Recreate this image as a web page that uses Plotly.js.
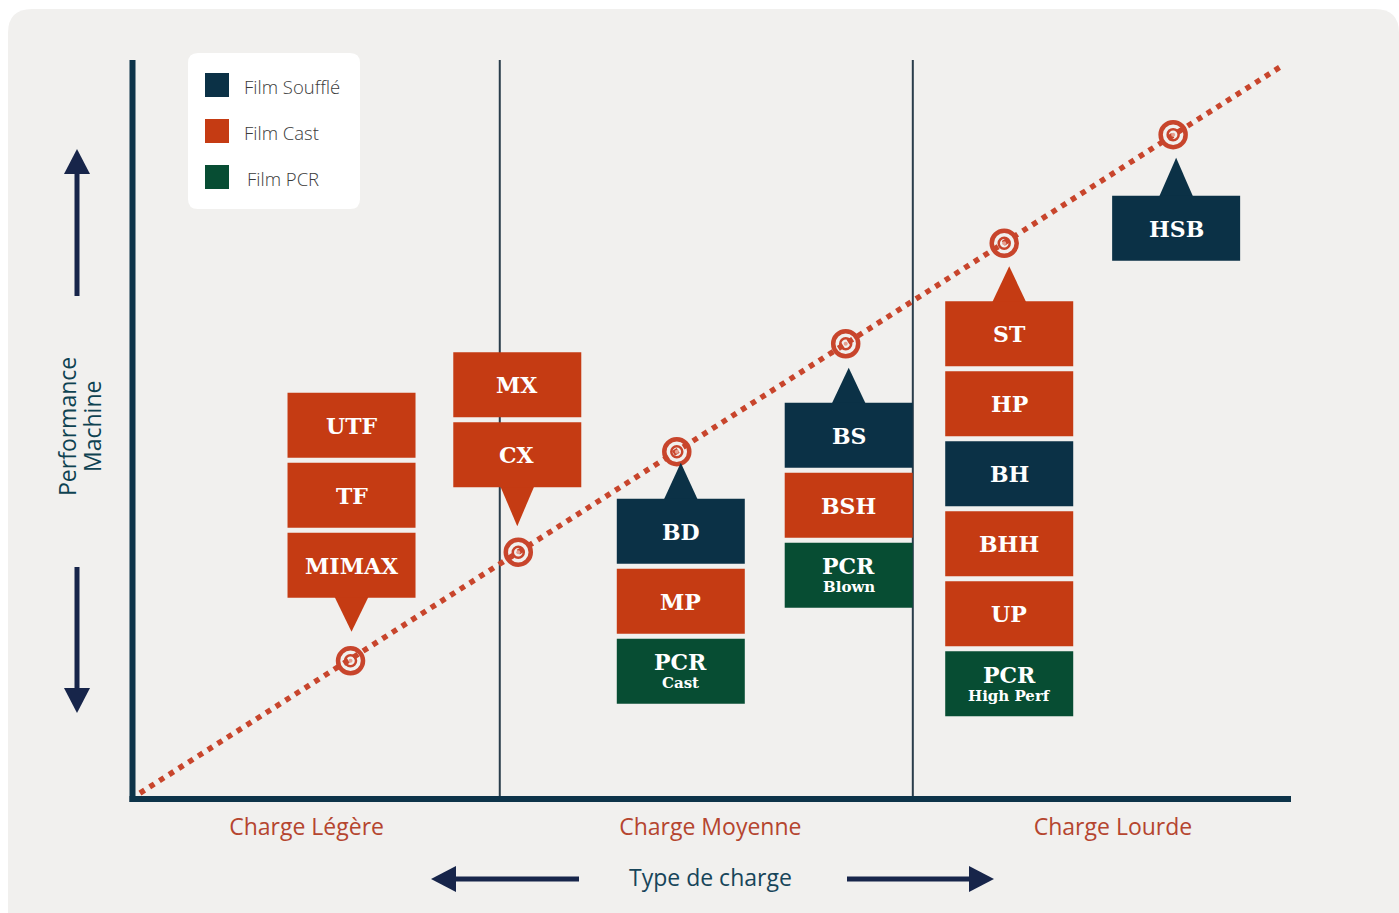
<!DOCTYPE html>
<html><head><meta charset="utf-8">
<script src="https://cdn.plot.ly/plotly-3.0.1.min.js"></script>
<style>html,body{margin:0;padding:0;background:#fff;}#chart{width:1399px;height:913px;}</style>
</head><body><div id="chart"></div>
<script>
// ---------------- data ----------------
const zoneNames = ['Charge Légère', 'Charge Moyenne', 'Charge Lourde'];
const zoneCenters = [15.0, 49.9, 84.7];
const zoneDividers = [31.7, 67.4];
const filmTypes = ['Film Soufflé', 'Film Cast', 'Film PCR'];
const targetCharge = [18.8, 33.3, 47.0, 61.6, 75.3, 89.9];
const targetPerf = [18.7, 33.4, 47.0, 61.6, 75.2, 89.9];
const trendCharge = [0.6, 99.4];
const trendPerf = [0.8, 99.3];
const stackLabels = [
  ['UTF', 'TF', 'MIMAX'],
  ['MX', 'CX'],
  ['BD', 'MP', 'PCR|Cast'],
  ['BS', 'BSH', 'PCR|Blown'],
  ['ST', 'HP', 'BH', 'BHH', 'UP', 'PCR|High Perf'],
  ['HSB']
];
const stackFilms = [
  [1, 1, 1],
  [1, 1],
  [0, 1, 2],
  [0, 1, 2],
  [1, 1, 0, 1, 1, 2],
  [0]
];
const xTitle = 'Type de charge';
const yTitleLines = ['Performance', 'Machine'];

// ---------------- style / layout constants ----------------
const W = 1399, H = 913;
const ML = 133, MR = 109, MT = 60, MB = 114;
const PW = W - ML - MR, PH = H - MT - MB;
const PX = PW / 100, PY = PH / 100;
const filmColors = ['#0b3146', '#c53b13', '#074d33'];
const dotColor = '#c8452c';
const navy = '#17254a';
const axisColor = '#0d3349';
const BOX_W = 128, BOX_H = 65, PITCH = 70, PTR_W = 34;
const ptrH = [34, 39, 36, 35, 35, 38];
const tipGap = [29, 26, 11, 24, 23, 23];
const boxShift = [1, -1, 4, 3, 5, 3];
const stackAbove = [true, true, false, false, false, false];

const toPx = (x) => ML + x * PX;
const toPy = (y) => H - MB - y * PY;
const dX = (px) => (px - ML) / PX;
const dY = (py) => (H - MB - py) / PY;
const pX = (px) => (px - ML) / PW;
const pY = (py) => (H - MB - py) / PH;

const shapes = [];
const annotations = [];

// background rounded panel
(function () {
  const x0 = 8, y0 = 9, x1 = 1399, y1 = 940, r = 24;
  const P = (a, b) => pX(a) + ',' + pY(b);
  shapes.push({
    type: 'path', xref: 'paper', yref: 'paper', layer: 'below',
    path: 'M' + P(x0 + r, y0) + ' L' + P(x1 - r, y0) + ' Q' + P(x1, y0) + ' ' + P(x1, y0 + r) +
      ' L' + P(x1, y1) + ' L' + P(x0, y1) + ' L' + P(x0, y0 + r) + ' Q' + P(x0, y0) + ' ' + P(x0 + r, y0) + ' Z',
    fillcolor: '#f1f0ee', line: { width: 0 }
  });
})();

// dividers
zoneDividers.forEach(x => shapes.push({
  type: 'line', xref: 'x', yref: 'paper', x0: x, x1: x, y0: 0, y1: 1, layer: 'below',
  line: { color: '#2a3d4b', width: 2 }
}));

// axis lines
shapes.push({ type: 'line', xref: 'paper', yref: 'paper', layer: 'below',
  x0: pX(132.5), x1: pX(132.5), y0: pY(60), y1: pY(802), line: { color: axisColor, width: 6 } });
shapes.push({ type: 'line', xref: 'paper', yref: 'paper', layer: 'below',
  x0: pX(129.5), x1: pX(1291), y0: pY(799), y1: pY(799), line: { color: axisColor, width: 6 } });

// arrows
function arrow(x0, y0, x1, y1) {
  const L = Math.hypot(x1 - x0, y1 - y0), ux = (x1 - x0) / L, uy = (y1 - y0) / L;
  const hl = 25, hw = 13;
  const bx = x1 - ux * hl, by = y1 - uy * hl;
  shapes.push({ type: 'line', xref: 'paper', yref: 'paper', layer: 'above',
    x0: pX(x0), y0: pY(y0), x1: pX(bx + ux * 2), y1: pY(by + uy * 2), line: { color: navy, width: 5 } });
  const P = (a, b) => pX(a) + ',' + pY(b);
  shapes.push({ type: 'path', xref: 'paper', yref: 'paper', layer: 'above',
    path: 'M' + P(x1, y1) + ' L' + P(bx - uy * hw, by + ux * hw) + ' L' + P(bx + uy * hw, by - ux * hw) + ' Z',
    fillcolor: navy, line: { width: 0 } });
}
arrow(77, 296, 77, 149);
arrow(77, 567, 77, 713);
arrow(579, 879, 431, 879);
arrow(847, 879, 994, 879);

// legend panel
(function () {
  const x0 = 188, y0 = 53, x1 = 360, y1 = 209, r = 10;
  const P = (a, b) => pX(a) + ',' + pY(b);
  shapes.push({
    type: 'path', xref: 'paper', yref: 'paper', layer: 'above',
    path: 'M' + P(x0 + r, y0) + ' L' + P(x1 - r, y0) + ' Q' + P(x1, y0) + ' ' + P(x1, y0 + r) +
      ' L' + P(x1, y1 - r) + ' Q' + P(x1, y1) + ' ' + P(x1 - r, y1) +
      ' L' + P(x0 + r, y1) + ' Q' + P(x0, y1) + ' ' + P(x0, y1 - r) +
      ' L' + P(x0, y0 + r) + ' Q' + P(x0, y0) + ' ' + P(x0 + r, y0) + ' Z',
    fillcolor: '#ffffff', line: { width: 0 }
  });
  filmTypes.forEach((name, i) => {
    const cy = 85 + i * 46;
    shapes.push({ type: 'rect', xref: 'paper', yref: 'paper', layer: 'above',
      x0: pX(205), x1: pX(229), y0: pY(cy - 12), y1: pY(cy + 12),
      fillcolor: filmColors[i], line: { width: 0 } });
    annotations.push({ xref: 'paper', yref: 'paper', x: pX(i === 2 ? 245 : 242), y: pY(cy + 1),
      xanchor: 'left', yanchor: 'middle', showarrow: false, text: name,
      font: { family: 'Open Sans', size: 18.5, weight: 300, color: '#3a3a3a' } });
  });
})();

// product stacks
stackLabels.forEach((labels, s) => {
  const tx = toPx(targetCharge[s]), ty = toPy(targetPerf[s]);
  const cx = tx + boxShift[s];
  const n = labels.length;
  let tip, base, tops = [], ptrColor;
  if (stackAbove[s]) {
    tip = ty - tipGap[s]; base = tip - ptrH[s];
    for (let i = 0; i < n; i++) tops.push(base - (n - i) * PITCH + (PITCH - BOX_H));
    ptrColor = filmColors[stackFilms[s][n - 1]];
  } else {
    tip = ty + tipGap[s]; base = tip + ptrH[s];
    for (let i = 0; i < n; i++) tops.push(base + i * PITCH);
    ptrColor = filmColors[stackFilms[s][0]];
  }
  const bo = stackAbove[s] ? -1 : 1;
  shapes.push({ type: 'path', xref: 'x', yref: 'y', layer: 'above',
    path: 'M' + dX(cx - PTR_W / 2) + ',' + dY(base + bo) + ' L' + dX(cx + PTR_W / 2) + ',' + dY(base + bo) +
      ' L' + dX(cx) + ',' + dY(tip) + ' Z',
    fillcolor: ptrColor, line: { width: 0 } });
  labels.forEach((lab, i) => {
    const top = tops[i], col = filmColors[stackFilms[s][i]];
    shapes.push({ type: 'rect', xref: 'x', yref: 'y', layer: 'above',
      x0: dX(cx - BOX_W / 2), x1: dX(cx + BOX_W / 2), y0: dY(top + BOX_H), y1: dY(top),
      fillcolor: col, line: { width: 0 } });
    const parts = lab.split('|');
    const mid = top + BOX_H / 2;
    if (parts.length === 1) {
      annotations.push({ xref: 'x', yref: 'y', x: dX(cx), y: dY(mid + 0.5), showarrow: false,
        xanchor: 'center', yanchor: 'middle', text: parts[0],
        font: { family: 'DejaVu Serif', size: 22, weight: 700, color: '#ffffff' } });
    } else {
      annotations.push({ xref: 'x', yref: 'y', x: dX(cx), y: dY(mid - 9), showarrow: false,
        xanchor: 'center', yanchor: 'middle', text: parts[0],
        font: { family: 'DejaVu Serif', size: 22, weight: 700, color: '#ffffff' } });
      annotations.push({ xref: 'x', yref: 'y', x: dX(cx), y: dY(mid + 12), showarrow: false,
        xanchor: 'center', yanchor: 'middle', text: parts[1],
        font: { family: 'DejaVu Serif', size: 15, weight: 700, color: '#ffffff' } });
    }
  });
});

// axis titles
annotations.push({ xref: 'paper', yref: 'paper', x: pX(710), y: pY(877), showarrow: false,
  xanchor: 'center', yanchor: 'middle', text: xTitle,
  font: { family: 'Open Sans', size: 23, color: '#17455a' } });
yTitleLines.forEach((t, i) => annotations.push({ xref: 'paper', yref: 'paper', x: pX(67 + i * 25), y: pY(427),
  showarrow: false, textangle: -90, xanchor: 'center', yanchor: 'middle', text: t,
  font: { family: 'Open Sans', size: 23, color: '#0e4251' } }));

const traces = [
  { type: 'scatter', mode: 'lines', x: trendCharge, y: trendPerf, hoverinfo: 'skip', showlegend: false,
    line: { color: dotColor, width: 5.5, dash: '5.5px,6px' } },
  { type: 'scatter', mode: 'markers', x: targetCharge, y: targetPerf, showlegend: false, cliponaxis: false,
    marker: { symbol: 'circle-open', size: 25, color: dotColor, line: { color: dotColor, width: 4.5 } } },
  { type: 'scatter', mode: 'markers', x: targetCharge, y: targetPerf, showlegend: false, cliponaxis: false,
    marker: { symbol: 'circle-open', size: 11, color: dotColor, line: { color: dotColor, width: 2.5 } } },
  { type: 'scatter', mode: 'markers', x: targetCharge, y: targetPerf, showlegend: false, cliponaxis: false,
    marker: { symbol: 'circle', size: 4, color: '#e6a090' } }
];

const layout = {
  width: W, height: H,
  margin: { l: ML, r: MR, t: MT, b: MB, pad: 0 },
  paper_bgcolor: '#ffffff', plot_bgcolor: 'rgba(0,0,0,0)',
  showlegend: false,
  xaxis: { range: [0, 100], showgrid: false, zeroline: false, showline: false, ticks: '',
    tickmode: 'array', tickvals: zoneCenters, ticktext: zoneNames, ticklabelstandoff: 12,
    tickfont: { family: 'Open Sans', size: 23, color: '#b5452f' }, fixedrange: true },
  yaxis: { range: [0, 100], showgrid: false, zeroline: false, showline: false, showticklabels: false,
    ticks: '', fixedrange: true },
  shapes: shapes,
  annotations: annotations
};

Plotly.newPlot('chart', traces, layout, { displayModeBar: false, staticPlot: true });
</script>
</body></html>
